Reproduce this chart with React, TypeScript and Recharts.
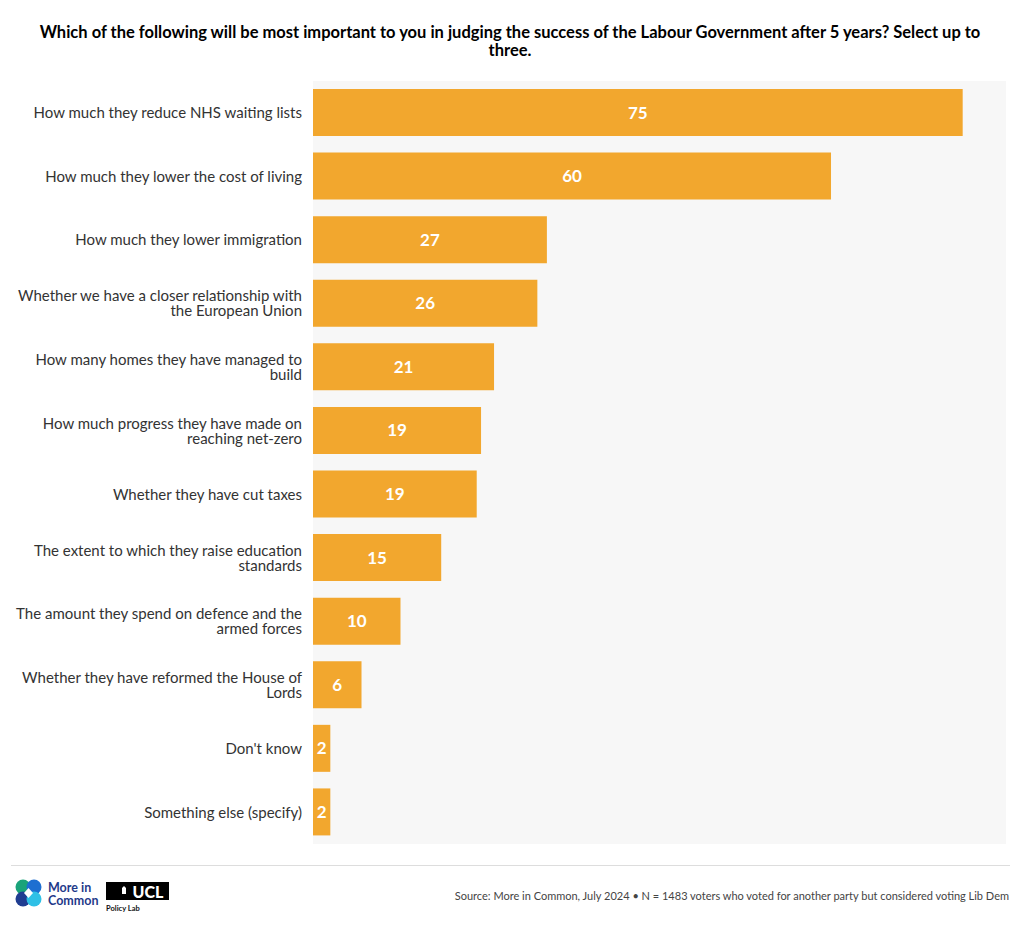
import { Bar, BarChart, CartesianGrid, LabelList, Text, XAxis, YAxis } from "recharts";

const FONT = "Lato, 'Noto Sans', sans-serif";
const BAR_COLOR = "#f2a72e";

const categories = [
  "How much they reduce NHS waiting lists",
  "How much they lower the cost of living",
  "How much they lower immigration",
  "Whether we have a closer relationship with the European Union",
  "How many homes they have managed to build",
  "How much progress they have made on reaching net-zero",
  "Whether they have cut taxes",
  "The extent to which they raise education standards",
  "The amount they spend on defence and the armed forces",
  "Whether they have reformed the House of Lords",
  "Don't know",
  "Something else (specify)",
];

const values = [75, 59.8, 27, 25.9, 20.9, 19.4, 18.9, 14.8, 10.1, 5.6, 2, 2];

const data = categories.map((name, i) => ({ name, value: values[i] }));

function CategoryTick(props: any) {
  const { x, y, payload } = props;
  return (
    <Text
      x={x}
      y={y}
      width={295}
      textAnchor="end"
      verticalAnchor="middle"
      lineHeight="1em"
      fontSize={15}
      fontFamily={FONT}
      fill="#333"
    >
      {payload.value}
    </Text>
  );
}

function MoreInCommonLogo() {
  return (
    <svg width={100} height={34} viewBox="0 0 100 34">
      <circle cx={10} cy={9} r={7.5} fill="#1aa37a" />
      <circle cx={21} cy={9} r={7.5} fill="#1d6fd1" />
      <circle cx={10} cy={21} r={7.5} fill="#203d91" />
      <circle cx={21} cy={21} r={7.5} fill="#2fc0e6" />
      <path d="M15.5 10 L20 15 L15.5 20 L11 15 Z" fill="#fff" />
      <text x={35} y={14} fontSize={12.5} fontWeight={700} fill="#1f3a8a" fontFamily={FONT}>
        More in
      </text>
      <text x={35} y={27} fontSize={12.5} fontWeight={700} fill="#1f3a8a" fontFamily={FONT}>
        Common
      </text>
    </svg>
  );
}

function UclLogo() {
  return (
    <svg width={70} height={36} viewBox="0 0 70 36">
      <rect x={0} y={0} width={63} height={18} fill="#000" />
      <path d="M16 6 L18 4 L20 6 L20 12 L16 12 Z" fill="#fff" />
      <text x={42} y={15.5} textAnchor="middle" fontSize={16} fontWeight={900} fill="#fff" fontFamily={FONT}>
        UCL
      </text>
      <text x={0} y={29} fontSize={7.5} fontWeight={700} fill="#111" fontFamily={FONT}>
        Policy Lab
      </text>
    </svg>
  );
}

export default function App() {
  return (
    <div style={{ position: "relative", width: 1020, height: 928, background: "#fff", fontFamily: FONT }}>
      <style>{"body{margin:0}"}</style>
      <div
        style={{
          position: "absolute",
          top: 23,
          left: 20,
          width: 980,
          textAlign: "center",
          fontSize: 16.5,
          fontWeight: 700,
          lineHeight: "18px",
          color: "#000",
        }}
      >
        Which of the following will be most important to you in judging the success of the Labour Government after 5
        years? Select up to three.
      </div>
      <div style={{ position: "absolute", top: 0, left: 0 }}>
        <BarChart
          width={1020}
          height={860}
          data={data}
          layout="vertical"
          margin={{ top: 81, right: 14, bottom: 16, left: 0 }}
          barSize={47}
        >
          <CartesianGrid horizontal={false} vertical={false} fill="#f7f7f7" />
          <XAxis type="number" domain={[0, 80]} hide />
          <YAxis
            type="category"
            dataKey="name"
            width={313}
            axisLine={false}
            tickLine={false}
            tickSize={0}
            tickMargin={11}
            interval={0}
            tick={<CategoryTick />}
          />
          <Bar dataKey="value" fill={BAR_COLOR} isAnimationActive={false}>
            <LabelList
              dataKey="value"
              position="center"
              fill="#fff"
              fontSize={17}
              fontWeight={700}
              fontFamily={FONT}
              formatter={(v: number) => Math.round(v)}
            />
          </Bar>
        </BarChart>
      </div>
      <div style={{ position: "absolute", top: 865, left: 11, width: 999, height: 1, background: "#dddddd" }} />
      <div style={{ position: "absolute", top: 878, left: 13 }}>
        <MoreInCommonLogo />
      </div>
      <div style={{ position: "absolute", top: 882, left: 106 }}>
        <UclLogo />
      </div>
      <div
        style={{
          position: "absolute",
          top: 889,
          right: 11,
          fontSize: 11,
          color: "#444",
          whiteSpace: "nowrap",
        }}
      >
        Source: More in Common, July 2024 • N = 1483 voters who voted for another party but considered voting Lib Dem
      </div>
    </div>
  );
}
